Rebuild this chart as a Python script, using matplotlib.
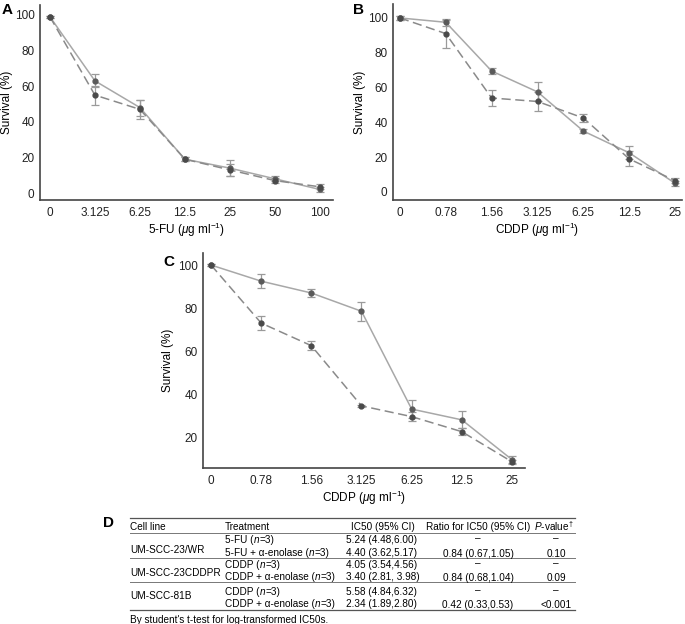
import matplotlib
matplotlib.use("Agg")
import matplotlib.pyplot as plt
from matplotlib.lines import Line2D
from matplotlib.offsetbox import TextArea, HPacker, AnnotationBbox

plt.rcParams['font.family'] = ['Liberation Sans', 'DejaVu Sans']
plt.rcParams['mathtext.fontset'] = 'custom'
plt.rcParams['mathtext.rm'] = 'Liberation Sans'
plt.rcParams['mathtext.it'] = 'Liberation Sans:italic'
plt.rcParams['mathtext.bf'] = 'Liberation Sans:bold'

# ---- data ----
fu_doses = ['0', '3.125', '6.25', '12.5', '25', '50', '100']
cddp_doses = ['0', '0.78', '1.56', '3.125', '6.25', '12.5', '25']

a_solid = [99, 63, 48, 19, 14, 8, 2]
a_solid_err = [0.5, 3.7, 4.5, 1, 4.5, 1.5, 1.5]
a_dashed = [99, 55, 47, 19, 13, 7, 3.5]
a_dashed_err = [0.5, 5.3, 5.5, 1, 3.5, 1.5, 1.5]

b_solid = [100, 97.5, 69.5, 57.5, 35, 22.5, 5]
b_solid_err = [1, 2, 1.5, 5.5, 1, 3.8, 1.5]
b_dashed = [100, 91, 54, 52, 42.5, 19, 6.5]
b_dashed_err = [1, 8, 4.5, 5.5, 2.5, 4.3, 1.5]

c_solid = [100, 92.5, 87, 78.5, 33, 28, 9.5]
c_solid_err = [0.5, 3.3, 2, 4.3, 4, 4, 1.5]
c_dashed = [100, 73, 62.5, 34.5, 29.5, 22.5, 8.5]
c_dashed_err = [0.5, 3.3, 2, 0.5, 2, 1.5, 1]

table_header = ['Cell line', 'Treatment', 'IC50 (95% CI)', 'Ratio for IC50 (95% CI)', '$P$-value$^{\u2020}$']
cell_lines = ['UM-SCC-23/WR', 'UM-SCC-23CDDPR', 'UM-SCC-81B']
treatments = [['5-FU', '5-FU + \u03b1-enolase'],
              ['CDDP', 'CDDP + \u03b1-enolase'],
              ['CDDP', 'CDDP + \u03b1-enolase']]
ic50 = [['5.24 (4.48,6.00)', '4.40 (3.62,5.17)'],
        ['4.05 (3.54,4.56)', '3.40 (2.81, 3.98)'],
        ['5.58 (4.84,6.32)', '2.34 (1.89,2.80)']]
ratios = ['0.84 (0.67,1.05)', '0.84 (0.68,1.04)', '0.42 (0.33,0.53)']
pvalues = ['0.10', '0.09', '<0.001']
footnote = "By student's t-test for log-transformed IC50s."

W, H = 685, 624
fs = 7.2


def fx(x):
    return x / W


def fy(y):
    return 1 - y / H


def panel(rect, labels, solid, solid_err, dashed, dashed_err, xlim, ylim, yticks, xlabel, ylab_x):
    left, top, right, bottom = rect
    ax = fig.add_axes([fx(left), fy(bottom), (right - left) / W, (bottom - top) / H])
    x = list(range(len(labels)))
    ax.errorbar(x, solid, yerr=solid_err, color='#a8a8a8', lw=1.1, ls='-',
                marker='o', ms=3.5, mfc='#5a5a5a', mec='#5a5a5a',
                ecolor='#9a9a9a', elinewidth=0.9, capsize=3, capthick=0.9)
    ax.errorbar(x, dashed, yerr=dashed_err, color='#8a8a8a', lw=1.1, ls=(0, (6, 3)),
                marker='o', ms=3.5, mfc='#4a4a4a', mec='#4a4a4a',
                ecolor='#9a9a9a', elinewidth=0.9, capsize=3, capthick=0.9)
    ax.set_xlim(*xlim)
    ax.set_ylim(*ylim)
    ax.set_xticks(x)
    ax.set_xticklabels(labels)
    ax.set_yticks(yticks)
    for s in ['top', 'right']:
        ax.spines[s].set_visible(False)
    for s in ['left', 'bottom']:
        ax.spines[s].set_color('#444444')
        ax.spines[s].set_linewidth(1.2)
    ax.tick_params(length=0, labelsize=8.5, colors='#222222')
    ax.tick_params(axis='x', pad=5)
    ax.tick_params(axis='y', pad=4)
    ax.set_xlabel(xlabel, fontsize=8.5, labelpad=1)
    ax.set_ylabel('Survival (%)', fontsize=8.5)
    # right edge of the rotated label at a fixed pixel x, like the original
    ax.yaxis.set_label_coords((ylab_x - left) / (right - left), 0.5)
    return ax


def treatment_text(x, y, name):
    # "<name> (n=3)" with an italic n, without mathtext
    parts = [(name + ' (', 'normal'), ('n', 'italic'), ('=3)', 'normal')]
    boxes = [TextArea(t, textprops=dict(fontsize=fs, style=st)) for t, st in parts]
    pack = HPacker(children=boxes, pad=0, sep=0, align='baseline')
    ab = AnnotationBbox(pack, (fx(x), fy(y)), xycoords='figure fraction',
                        box_alignment=(0, 0.5), frameon=False, pad=0)
    fig.add_artist(ab)


fig = plt.figure(figsize=(6.85, 6.24), dpi=100)

panel((40, 5, 333, 200), fu_doses, a_solid, a_solid_err, a_dashed, a_dashed_err,
      (-0.22, 6.29), (-3.9, 105.6), [0, 20, 40, 60, 80, 100], '5-FU ($\\mu$g ml$^{-1}$)', 13)
panel((393, 4, 682, 200), cddp_doses, b_solid, b_solid_err, b_dashed, b_dashed_err,
      (-0.15, 6.15), (-4.6, 108), [0, 20, 40, 60, 80, 100], 'CDDP ($\\mu$g ml$^{-1}$)', 366)
panel((203, 253, 525, 468), cddp_doses, c_solid, c_solid_err, c_dashed, c_dashed_err,
      (-0.16, 6.26), (5.6, 105.6), [20, 40, 60, 80, 100], 'CDDP ($\\mu$g ml$^{-1}$)', 174)

# panel letters
for letter, (x, y) in zip('ABCD', [(2, 10), (353, 10), (163, 262), (103, 523)]):
    fig.text(fx(x), fy(y), letter, fontsize=11, fontweight='bold', va='center', ha='left')

# ---- table D ----
for y, lw, c in [(518, 0.9, '#555555'), (533, 0.7, '#777777'), (558, 0.7, '#777777'),
                 (582, 0.7, '#777777'), (610, 0.9, '#555555')]:
    fig.add_artist(Line2D([fx(130), fx(575)], [fy(y), fy(y)], lw=lw, color=c,
                          transform=fig.transFigure))

hy = 526.5
fig.text(fx(130), fy(hy), table_header[0], fontsize=fs, va='center', ha='left')
fig.text(fx(225), fy(hy), table_header[1], fontsize=fs, va='center', ha='left')
fig.text(fx(383), fy(hy), table_header[2], fontsize=fs, va='center', ha='center')
fig.text(fx(478), fy(hy), table_header[3], fontsize=fs, va='center', ha='center')
fig.text(fx(554), fy(hy), table_header[4], fontsize=fs, va='center', ha='center')

row_y = [(540, 553, 550), (565, 577, 573), (592, 604, 596)]
for i, (y1, y2, yc) in enumerate(row_y):
    fig.text(fx(130), fy(yc), cell_lines[i], fontsize=fs, va='center', ha='left')
    treatment_text(225, y1, treatments[i][0])
    treatment_text(225, y2, treatments[i][1])
    fig.text(fx(346), fy(y1), ic50[i][0], fontsize=fs, va='center', ha='left')
    fig.text(fx(346), fy(y2), ic50[i][1], fontsize=fs, va='center', ha='left')
    fig.text(fx(478), fy(y1 - 2), '\u2013', fontsize=fs, va='center', ha='center')
    fig.text(fx(478), fy(y2 + 1), ratios[i], fontsize=fs, va='center', ha='center')
    fig.text(fx(556), fy(y1 - 2), '\u2013', fontsize=fs, va='center', ha='center')
    fig.text(fx(556), fy(y2 + 1), pvalues[i], fontsize=fs, va='center', ha='center')

fig.text(fx(130), fy(620), footnote, fontsize=fs, va='center', ha='left')

plt.savefig('out.png', dpi=100)
